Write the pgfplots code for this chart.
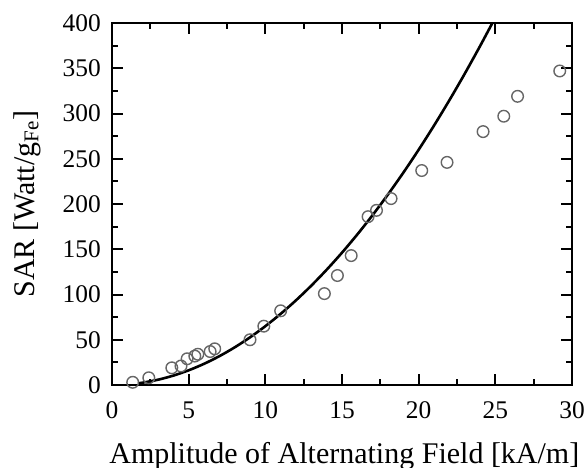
\documentclass[border=0pt]{standalone}
\usepackage{fontspec}
\setmainfont{Liberation Serif}
\usepackage{pgfplots}
\pgfplotsset{compat=1.18}
\begin{document}
\fontsize{12.7}{15}\selectfont
\begin{tikzpicture}
\begin{axis}[
  width=230pt, height=181pt, scale only axis,
  xmin=0, xmax=30, ymin=0, ymax=400,
  xtick={0,5,...,30}, ytick={0,50,...,400},
  minor x tick num=1, minor y tick num=1,
  tick align=inside, major tick length=5.5pt, minor tick length=3pt,
  axis line style={line width=1pt},
  every tick/.style={line width=1pt, black},
  /pgf/number format/assume math mode=true,
  tick label style={font=\fontsize{12.7}{15}\selectfont},
  yticklabel style={xshift=-1.2pt},
  xticklabel style={yshift=-4pt},
  label style={font=\fontsize{15}{17}\selectfont},
  xlabel={Amplitude of Alternating Field [kA/m]},
  ylabel={SAR [Watt/g\textsubscript{Fe}]},
  xlabel style={at={(axis description cs:0.505,-0.196)}, anchor=center},
  ylabel style={at={(axis description cs:-0.185,0.5)}, anchor=center},
  clip=false,
]
\coordinate (sw) at (rel axis cs:0,0);
\coordinate (ne) at (rel axis cs:1,1);
\addplot[black, line width=1.3pt, smooth] coordinates {
(1.7,1.9) (2,2.6) (3,5.85) (4,10.4) (5,16.25) (6,23.4) (7,31.85) (8,41.6)
(9,52.65) (10,65) (11,78.65) (12,93.6) (13,109.85) (14,127.4) (15,146.25)
(16,166.4) (17,187.85) (18,210.6) (19,234.65) (20,260) (21,286.65)
(22,314.6) (23,343.85) (24,374.4) (24.8,399.8)
};
\addplot[only marks, mark=o, mark size=2.9pt, draw=black!60, line width=0.7pt,
  mark options={fill=white}] coordinates {
(1.35,3) (2.4,8) (3.9,19) (4.5,21) (4.9,29) (5.4,32) (5.6,34) (6.4,37) (6.7,40)
(9.0,50) (9.9,65) (11.0,82) (13.85,101) (14.7,121) (15.6,143) (16.7,186)
(17.25,193) (18.2,206) (20.2,237) (21.85,246) (24.2,280) (25.55,297)
(26.45,319) (29.2,347)
};
\end{axis}
\pgfresetboundingbox
\path[use as bounding box] ([xshift=-56pt,yshift=-41pt]sw) rectangle ([xshift=7.5pt,yshift=11.5pt]ne);
\end{tikzpicture}
\end{document}
